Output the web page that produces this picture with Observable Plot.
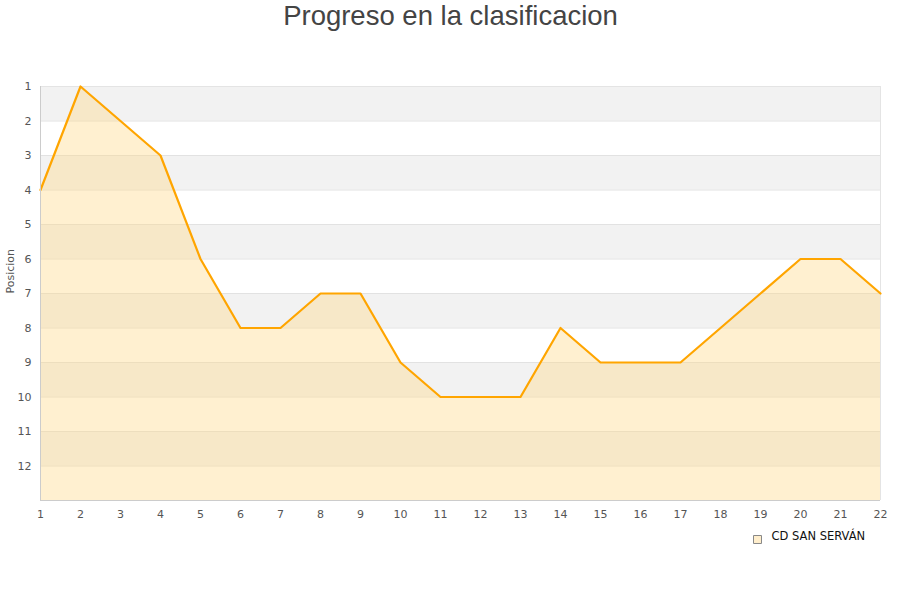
<!DOCTYPE html>
<html>
<head>
<meta charset="utf-8">
<script src="https://cdn.jsdelivr.net/npm/d3@7"></script>
<script src="https://cdn.jsdelivr.net/npm/@observablehq/plot@0.6"></script>
<style>
  html, body { margin: 0; padding: 0; background: #fff; }
  #chart { width: 900px; height: 600px; }
</style>
</head>
<body>
<div id="chart"></div>
<script>
// Jornadas (matchdays) and league position after each one
const jornadas = [1, 2, 3, 4, 5, 6, 7, 8, 9, 10, 11, 12, 13, 14, 15, 16, 17, 18, 19, 20, 21, 22];
const posiciones = [4, 1, 2, 3, 6, 8, 8, 7, 7, 9, 10, 10, 10, 8, 9, 9, 9, 8, 7, 6, 6, 7];
const posicionTicks = [1, 2, 3, 4, 5, 6, 7, 8, 9, 10, 11, 12];
const bandas = [1, 3, 5, 7, 9, 11];
const equipo = "CD SAN SERVÁN";
const titulo = "Progreso en la clasificacion";

const data = jornadas.map((j, i) => ({jornada: j, posicion: posiciones[i]}));
const fondo = 13;

const chart = Plot.plot({
  width: 900,
  height: 600,
  marginTop: 86,
  marginBottom: 100,
  marginLeft: 40,
  marginRight: 20,
  style: {fontFamily: "DejaVu Sans, sans-serif", fontSize: "11px", color: "#555", background: "#fff"},
  x: {domain: [1, 22]},
  y: {domain: [1, fondo], reverse: true},
  marks: [
    // alternating row bands
    Plot.rect(bandas, {x1: 1, x2: 22, y1: d => d, y2: d => d + 1, fill: "#f2f2f2"}),
    Plot.ruleY(posicionTicks.slice(1), {stroke: "#e2e2e2"}),
    // frame
    Plot.ruleY([1], {stroke: "#e4e4e4"}),
    Plot.ruleX([22], {stroke: "#e4e4e4"}),
    // filled area under the position line
    Plot.areaY(data, {x: "jornada", y1: fondo, y2: "posicion", fill: "#ffd98a", fillOpacity: 0.4}),
    Plot.line(data, {x: "jornada", y: "posicion", stroke: "#ffa500", strokeWidth: 2.2}),
    Plot.ruleX([1], {stroke: "#cccccc"}),
    Plot.ruleY([fondo], {stroke: "#cccccc"}),
    Plot.axisY({ticks: posicionTicks, tickSize: 0, tickPadding: 9, label: null, fill: "#555"}),
    Plot.axisX({ticks: jornadas, tickFormat: d => d, tickSize: 0, tickPadding: 10, label: null, fill: "#555"}),
    Plot.text(["Posicion"], {frameAnchor: "left", dx: -30, rotate: -90, fill: "#555", fontSize: 11}),
    // title
    Plot.text([titulo], {frameAnchor: "top", dx: -10, dy: -81, lineAnchor: "top", fontSize: 27.5,
      fontFamily: "Liberation Sans, Arial, sans-serif", fill: "#444"}),
    // legend
    Plot.dot([equipo], {frameAnchor: "bottom-right", dx: -123, dy: 39, symbol: "square", r: 4.5,
      fill: "#ffeecc", stroke: "#888", strokeWidth: 1}),
    Plot.text([equipo], {frameAnchor: "bottom-right", dx: -109, dy: 39, textAnchor: "start",
      fill: "#111", fontSize: 11.5})
  ]
});

document.getElementById("chart").append(chart);
</script>
</body>
</html>
